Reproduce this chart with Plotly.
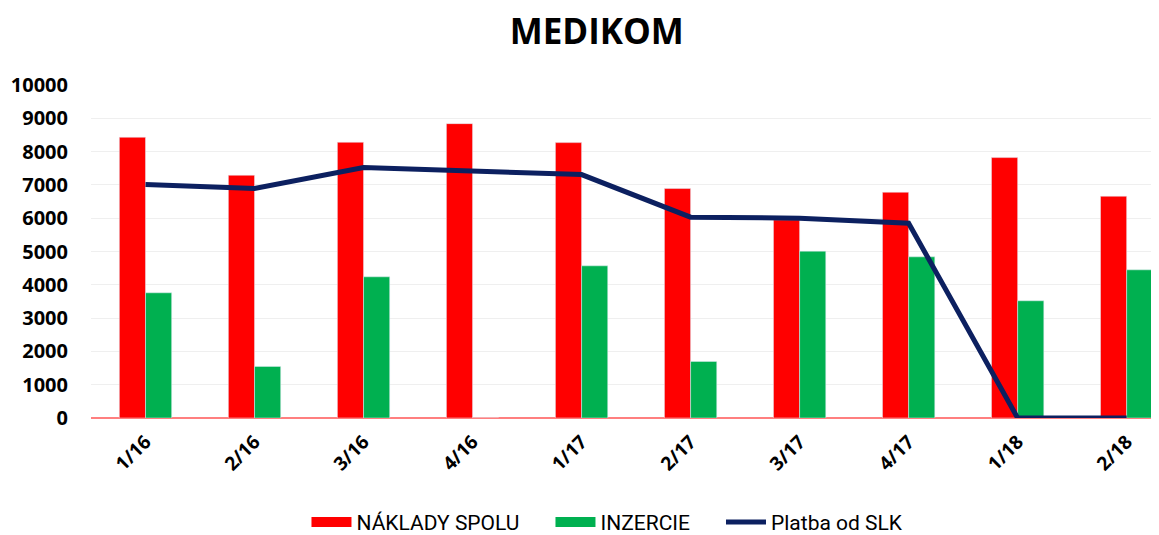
import plotly.graph_objects as go

categories = ["1/16", "2/16", "3/16", "4/16", "1/17", "2/17", "3/17", "4/17", "1/18", "2/18"]
naklady = [8430, 7290, 8280, 8840, 8270, 6890, 5950, 6780, 7820, 6660]
inzercie = [3760, 1550, 4240, 0, 4570, 1700, 5010, 4840, 3520, 4450]
platba = [7010, 6890, 7520, 7400, 7310, 6030, 6000, 5850, 0, 0]
y_ticks = [0, 1000, 2000, 3000, 4000, 5000, 6000, 7000, 8000, 9000, 10000]
y_tick_labels = [str(v) for v in y_ticks]
series_names = ["NÁKLADY SPOLU", "INZERCIE", "Platba od SLK"]

RED = "#ff0000"
GREEN = "#00b050"
NAVY = "#0c2060"
PAD = "\u00a0" * 5

fig = go.Figure()
fig.add_trace(go.Bar(x=categories, y=naklady, name=series_names[0], marker_color=RED,
                     showlegend=False, legendgroup="n"))
fig.add_trace(go.Bar(x=categories, y=inzercie, name=series_names[1], marker_color=GREEN,
                     showlegend=False, legendgroup="i"))
fig.add_trace(go.Scatter(x=categories, y=platba, name=series_names[2], mode="lines",
                         line=dict(color=NAVY, width=5), showlegend=False, legendgroup="p"))
# legend entries with wide rectangular keys (no plotted marks)
fig.add_trace(go.Scatter(x=[None], y=[None], mode="lines", name=series_names[0] + PAD,
                         line=dict(color=RED, width=10), legendgroup="n"))
fig.add_trace(go.Scatter(x=[None], y=[None], mode="lines", name=series_names[1] + PAD,
                         line=dict(color=GREEN, width=10), legendgroup="i"))
fig.add_trace(go.Scatter(x=[None], y=[None], mode="lines", name=series_names[2],
                         line=dict(color=NAVY, width=5), legendgroup="p"))

fig.update_layout(
    width=1159, height=535,
    paper_bgcolor="white", plot_bgcolor="white",
    margin=dict(l=83, r=0, t=77, b=123),
    barmode="group", bargap=0.52, bargroupgap=0,
    title=dict(text="<b>MEDIKOM</b>", x=0.508, xanchor="center", y=0.955, yanchor="middle",
               font=dict(family="Open Sans", size=35, color="#000000")),
    legend=dict(orientation="h", x=0.48, xanchor="center", y=-0.313, yanchor="middle",
                font=dict(family="Roboto", size=21, color="#000000"),
                traceorder="normal", itemwidth=40),
    showlegend=True,
)
fig.update_xaxes(type="category", range=[-0.5, 9.37], showgrid=False, showline=False,
                 tickangle=-45, ticks="", ticklabelstandoff=8,
                 tickfont=dict(family="Open Sans", size=19, color="#000000", weight="bold"))
fig.update_yaxes(range=[0, 10000], tickvals=y_ticks, ticktext=y_tick_labels,
                 showgrid=True, gridcolor="#efefef", gridwidth=1,
                 zeroline=True, zerolinecolor="#ff7f7f", zerolinewidth=2, showline=False,
                 ticks="", ticklabelstandoff=22,
                 tickfont=dict(family="Open Sans", size=20, color="#000000", weight="bold"))

fig.write_html("out.html")
